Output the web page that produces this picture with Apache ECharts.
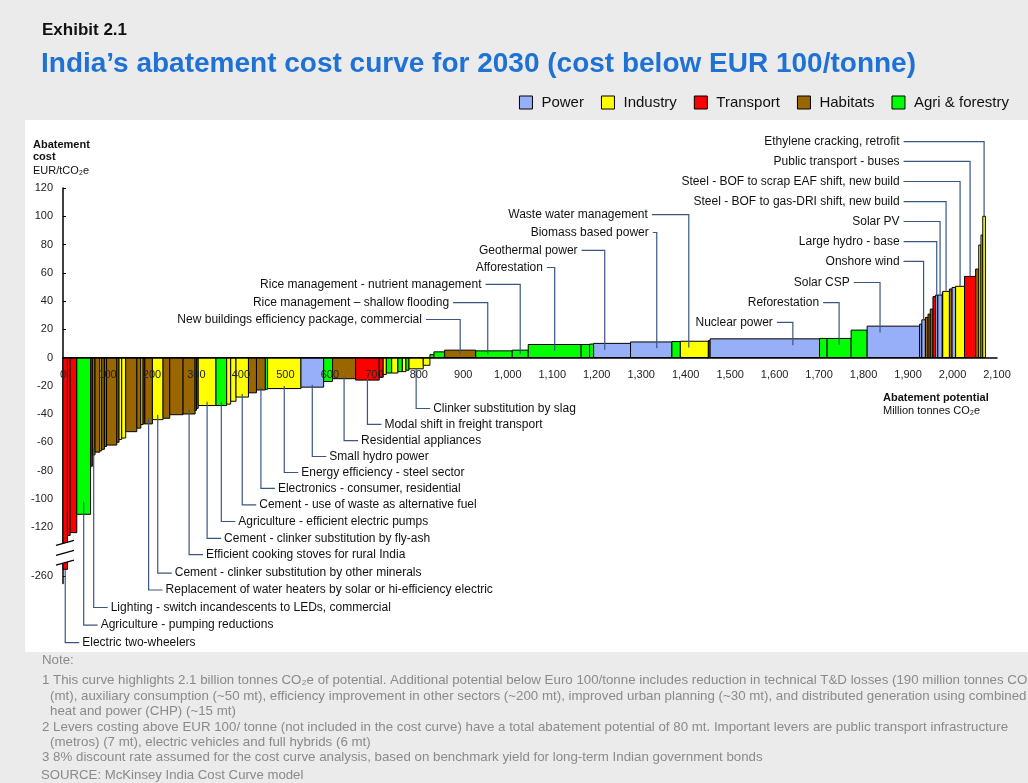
<!DOCTYPE html>
<html><head><meta charset="utf-8">
<script src="https://cdn.jsdelivr.net/npm/echarts@6/dist/echarts.min.js"></script>
<style>html,body{margin:0;padding:0;background:#ebebeb;}#chart{width:1028px;height:783px;}</style>
</head><body><div id="chart"></div>
<script>
// ---------- DATA ----------
const categories = ['Power', 'Industry', 'Transport', 'Habitats', 'Agri & forestry'];
// P=Power I=Industry T=Transport H=Habitats A=Agri & forestry
const barCategories = ['T','T','T','A','T','H','H','I','H','H','H','H','I','I','H','H','I','T','H','I',
  'H','H','H','A','H','I','A','I','I','I','H','H','A','I','P','A','H','T','T','I',
  'A','I','A','I','A','I','I','A','A','H','A','A','A','A','A','P','P','A','I','H',
  'P','A','A','A','P','P','P','H','H','H','T','P','P','I','I','H','P','I','T','H',
  'I','I','I'];
const barWidths = [10,6,15,31,4,6,11,4,6,5,23,5,6,9,25,9,5,4,17,24,
  15,30,27,3,4,40,24,9,12,28,18,20,5,75,51,20,52,53,9,7,
  12,14,10,8,7,32,15,9,24,70,82,36,119,19,9,83,93,19,63,4,
  246,17,54,36,118,5,8,6,5,6,6,5,10,1,15,6,8,20,25,7,
  5,4,6];
const barCosts = [-255,-126,-124,-111,-77,-69,-67,-66,-65,-63,-62,-60,-58,-57,-52.5,-50,-47.5,-47,-47,-44,
  -43,-40.5,-40,-37.5,-36,-34,-34,-33,-31,-28,-25,-23,-22.5,-22,-21,-17,-15,-16,-14,-12,
  -11,-11,-10,-10,-9,-8,-5.5,2,4,5.2,4.7,5.2,9.2,9.2,9.5,10,11,11.3,11.5,12,
  13.2,13.5,13.5,19.4,22.2,23.6,26.7,28.4,30.7,34.3,43.1,44.2,44.2,46,46.8,48.5,49.6,50.4,57.4,62.6,
  79.6,86.7,100];
const barNames = ['Electric two-wheelers','','','Agriculture - pumping reductions','','Lighting - switch incandescents to LEDs, commercial','','','','','','','','','','','','','Replacement of water heaters by solar or hi-efficiency electric','Cement - clinker substitution by other minerals',
  '','','Efficient cooking stoves for rural India','','','Cement - clinker substitution by fly-ash','Agriculture - efficient electric pumps','','','Cement - use of waste as alternative fuel','','Electronics - consumer, residential','','Energy efficiency - steel sector','Small hydro power','','Residential appliances','Modal shift in freight transport','','',
  '','','','','','Clinker substitution by slag','','','','New buildings efficiency package, commercial','Rice management \u2013 shallow flooding','Rice management - nutrient management','Afforestation','','','Geothermal power','Biomass based power','','Waste water management','',
  'Nuclear power','','Reforestation','','Solar CSP','','Onshore wind','','','','','Large hydro - base','Solar PV','','Steel - BOF to gas-DRI shift, new build','','','Steel - BOF to scrap EAF shift, new build','Public transport - buses','',
  '','','Ethylene cracking, retrofit'];
const xTickValues = [0,100,200,300,400,500,600,700,800,900,1000,1100,1200,1300,1400,1500,1600,1700,1800,1900,2000,2100];
const yTickValues = [-260,-120,-100,-80,-60,-40,-20,0,20,40,60,80,100,120];

// ---------- LAYOUT / STYLE (not data) ----------
const catColor = {P:'#97aff8', I:'#ffff00', T:'#ff0000', H:'#996600', A:'#00ff00'};
const legendColors = ['#97aff8','#ffff00','#ff0000','#996600','#00ff00'];
const BREAK_AT = -130, BREAK_SHIFT = 105;           // broken y axis below -130
const toDisplay = v => v < BREAK_AT ? v + BREAK_SHIFT : v;
const fromDisplay = v => v < BREAK_AT ? v - BREAK_SHIFT : v;
// label placement: [side (b=below, t=above-left, r=right stack), level in axis units, text end on x axis, optional leader x]
const labelLayout = {
  'Clinker substitution by slag':['b',-36.1], 'Modal shift in freight transport':['b',-47.4],
  'Residential appliances':['b',-58.8], 'Small hydro power':['b',-70.1],
  'Energy efficiency - steel sector':['b',-81.4], 'Electronics - consumer, residential':['b',-92.7],
  'Cement - use of waste as alternative fuel':['b',-104.3], 'Agriculture - efficient electric pumps':['b',-116.1],
  'Cement - clinker substitution by fly-ash':['b',-128], 'Efficient cooking stoves for rural India':['b',-139.5],
  'Cement - clinker substitution by other minerals':['b',-152.6], 'Replacement of water heaters by solar or hi-efficiency electric':['b',-164.6],
  'Lighting - switch incandescents to LEDs, commercial':['b',-177], 'Agriculture - pumping reductions':['b',-189.4],
  'Electric two-wheelers':['b',-201.8],
  'Waste water management':['t',101.2,1324,1407], 'Biomass based power':['t',88.5,1326,1335],
  'Geothermal power':['t',75.8,1166,1218], 'Afforestation':['t',63.7,1088],
  'Rice management - nutrient management':['t',51.7,950], 'Rice management \u2013 shallow flooding':['t',38.9,877,955],
  'New buildings efficiency package, commercial':['t',26.9,816], 'Nuclear power':['t',24.8,1605,1641],
  'Reforestation':['t',38.9,1709], 'Solar CSP':['t',53.1,1778,1837],
  'Ethylene cracking, retrofit':['r',152.9,1890], 'Public transport - buses':['r',138.8,1890],
  'Steel - BOF to scrap EAF shift, new build':['r',124.6,1890], 'Steel - BOF to gas-DRI shift, new build':['r',110.4,1890],
  'Solar PV':['r',96.3,1890], 'Large hydro - base':['r',82.1,1890], 'Onshore wind':['r',68,1890]
};

// ---------- BUILD ----------
const barData = [];
let acc = 0;
for (let i = 0; i < barWidths.length; i++) {
  barData.push([acc, acc + barWidths[i], toDisplay(barCosts[i]), i]);
  acc += barWidths[i];
}
const leaders = [];
barData.forEach((d, i) => {
  const nm = barNames[i];
  if (!nm) return;
  const lay = labelLayout[nm];
  const cx = lay[3] !== undefined ? lay[3] : (d[0] + d[1]) / 2;
  const val = d[2];
  let end;
  if (lay[0] === 'b') end = barCosts[i] < BREAK_AT ? val : val * 0.92;
  else if (lay[0] === 't') end = Math.max(val - 4.5, val / 2);
  else end = val;
  leaders.push({name: nm, side: lay[0], level: lay[1], textEnd: lay[2], cx: cx, end: end});
});

const FONT = 'Liberation Sans, Arial, sans-serif';
const LEAD = '#3a5783';
const chart = echarts.init(document.getElementById('chart'), null, {renderer: 'canvas'});

const legendSeries = categories.map((c, i) => ({
  type: 'custom', name: c, data: [], renderItem: () => null,
  itemStyle: {color: legendColors[i]}
}));

const notes = [
  ['Note:', 660, 42],
  ['1 This curve highlights 2.1 billion tonnes CO\u2082e of potential. Additional potential below Euro 100/tonne includes reduction in technical T&D losses (190 million tonnes CO2', 680, 42],
  ['(mt), auxiliary consumption (~50 mt), efficiency improvement in other sectors (~200 mt), improved urban planning (~30 mt), and distributed generation using combined', 696, 50],
  ['heat and power (CHP) (~15 mt)', 711, 50],
  ['2 Levers costing above EUR 100/ tonne (not included in the cost curve) have a total abatement potential of 80 mt. Important levers are public transport infrastructure', 727, 42],
  ['(metros) (7 mt), electric vehicles and full hybrids (6 mt)', 742, 50],
  ['3 8% discount rate assumed for the cost curve analysis, based on benchmark yield for long-term Indian government bonds', 757, 42]
];

const graphics = [
  {type:'rect', z:-10, shape:{x:25, y:120, width:1003, height:532}, style:{fill:'#ffffff'}},
  {type:'text', x:42, y:30, style:{text:'Exhibit 2.1', fontSize:17, fontWeight:'bold', fontFamily:FONT, fill:'#111', verticalAlign:'middle'}},
  {type:'text', x:41, y:64, style:{text:'India\u2019s abatement cost curve for 2030 (cost below EUR 100/tonne)', fontSize:28, fontWeight:'bold', fontFamily:FONT, fill:'#1f72d4', verticalAlign:'middle'}},
  {type:'text', x:33, y:145, style:{text:'Abatement', fontSize:11, fontWeight:'bold', fontFamily:FONT, fill:'#111', verticalAlign:'middle'}},
  {type:'text', x:33, y:157, style:{text:'cost', fontSize:11, fontWeight:'bold', fontFamily:FONT, fill:'#111', verticalAlign:'middle'}},
  {type:'text', x:33, y:171, style:{text:'EUR/tCO\u2082e', fontSize:11, fontFamily:FONT, fill:'#111', verticalAlign:'middle'}},
  {type:'text', x:883, y:398, style:{text:'Abatement potential', fontSize:11, fontWeight:'bold', fontFamily:FONT, fill:'#111', verticalAlign:'middle'}},
  {type:'text', x:883, y:411, style:{text:'Million tonnes CO\u2082e', fontSize:11, fontFamily:FONT, fill:'#111', verticalAlign:'middle'}},
  {type:'text', x:41, y:775, style:{text:'SOURCE: McKinsey India Cost Curve model', fontSize:13.2, fontFamily:FONT, fill:'#8a8a8a', verticalAlign:'middle'}}
];
notes.forEach(n => graphics.push({type:'text', x:n[2], y:n[1], style:{text:n[0], fontSize:13.3, fontFamily:FONT, fill:'#8a8a8a', verticalAlign:'middle'}}));

const option = {
  backgroundColor: '#ebebeb',
  animation: false,
  textStyle: {fontFamily: FONT},
  graphic: graphics,
  legend: {
    right: 14, top: 90, itemWidth: 13, itemHeight: 13, itemGap: 17, icon: 'rect',
    itemStyle: {borderColor: '#000', borderWidth: 1},
    textStyle: {fontSize: 15, color: '#111', fontFamily: FONT, padding: [0, 0, 0, 4]},
    data: categories, selectedMode: false
  },
  grid: {left: 63, right: 31, top: 188, height: 395.5},
  xAxis: {
    type: 'value', min: 0, max: 2100, interval: 100, z: 10,
    axisLine: {onZero: true, lineStyle: {color: '#000', width: 1.5}},
    axisTick: {show: false}, splitLine: {show: false},
    axisLabel: {show: false}
  },
  yAxis: {
    type: 'value', min: -160, max: 120,
    axisLine: {show: true, onZero: false, lineStyle: {color: '#000', width: 1.5}},
    axisTick: {show: true, inside: true, length: 3, customValues: yTickValues.map(toDisplay), lineStyle: {color: '#000'}},
    splitLine: {show: false},
    axisLabel: {fontSize: 11, color: '#222', margin: 10, fontFamily: FONT,
      customValues: yTickValues.map(toDisplay), formatter: v => String(Math.round(fromDisplay(v)))}
  },
  series: [
    {
      type: 'custom', name: 'bars', z: 2,
      data: barData,
      encode: {x: [0, 1], y: 2},
      renderItem: function (params, api) {
        const i = params.dataIndex;
        const p0 = api.coord([api.value(0), 0]);
        const p1 = api.coord([api.value(1), api.value(2)]);
        const children = [{
          type: 'rect',
          shape: {x: p0[0], y: Math.min(p0[1], p1[1]), width: p1[0] - p0[0], height: Math.abs(p1[1] - p0[1])},
          style: {fill: catColor[barCategories[i]], stroke: '#000', lineWidth: 1}
        }];
        if (barCosts[i] < BREAK_AT) {
          const a = api.coord([api.value(0), -129.5]);
          const b = api.coord([api.value(0), -143.5]);
          const xl = a[0] - 7, xr = a[0] + 11, sl = 5;
          children.push({type: 'polygon', shape: {points: [[xl, a[1] + sl], [xr, a[1]], [xr, b[1]], [xl, b[1] + sl]]},
            style: {fill: '#fff', stroke: null}});
          const mid = (a[1] + b[1]) / 2;
          [a[1], mid, b[1]].forEach(yy => children.push({type: 'line', shape: {x1: xl, y1: yy + sl, x2: xr, y2: yy},
            style: {stroke: '#000', lineWidth: 1.2}}));
        }
        return {type: 'group', children: children};
      }
    },
    {
      type: 'custom', name: 'xticklabels', z: 8, silent: true,
      data: xTickValues.map(v => [v, 0]),
      renderItem: function (params, api) {
        const p = api.coord([api.value(0), 0]);
        return {type: 'text', style: {text: api.value(0).toLocaleString('en-US'), x: p[0], y: p[1] + 17,
          align: 'center', verticalAlign: 'middle', fontSize: 11, fontFamily: FONT, fill: '#222'}};
      }
    },
    {
      type: 'custom', name: 'labels', z: 5, silent: true,
      data: leaders.map(l => [l.cx, l.level]),
      renderItem: function (params, api) {
        const L = leaders[params.dataIndex];
        const pBar = api.coord([L.cx, L.end]);
        const pLev = api.coord([L.cx, L.level]);
        const children = [];
        if (L.side === 'b') {
          const x2 = pLev[0] + 14;
          children.push({type: 'polyline', shape: {points: [pBar, pLev, [x2, pLev[1]]]}, style: {stroke: LEAD, lineWidth: 1.2, fill: null}});
          children.push({type: 'text', style: {text: L.name, x: x2 + 3, y: pLev[1], align: 'left', verticalAlign: 'middle', fontSize: 12, fontFamily: FONT, fill: '#111'}});
        } else {
          const pT = api.coord([L.textEnd, L.level]);
          children.push({type: 'polyline', shape: {points: [pBar, pLev, [pT[0], pLev[1]]]}, style: {stroke: LEAD, lineWidth: 1.2, fill: null}});
          children.push({type: 'text', style: {text: L.name, x: pT[0] - 4, y: pLev[1], align: 'right', verticalAlign: 'middle', fontSize: 12, fontFamily: FONT, fill: '#111'}});
        }
        return {type: 'group', children: children};
      }
    }
  ].concat(legendSeries)
};
chart.setOption(option);
</script></body></html>
